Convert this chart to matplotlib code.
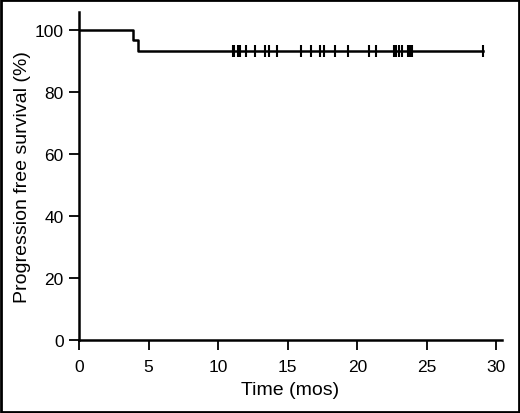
import matplotlib
matplotlib.use("Agg")
import matplotlib.pyplot as plt
from matplotlib.patches import Rectangle

plt.rcParams['font.family'] = ['Liberation Sans', 'DejaVu Sans']

# KM step curve (months, % progression free)
step_t = [0, 3.9, 4.23, 29.0]
step_s = [100, 96.7, 93.3, 93.3]

# censored patients
censor_t = [11.05, 11.15, 11.4, 11.54, 12.02, 12.62, 13.34, 13.65, 14.23,
            15.98, 16.70, 17.30, 17.61, 18.38, 19.30, 20.85, 21.34,
            22.64, 22.76, 23.0, 23.19, 23.63, 23.79, 23.96, 29.0]
censor_s = [93.3] * len(censor_t)

xticks = [0, 5, 10, 15, 20, 25, 30]
yticks = [0, 20, 40, 60, 80, 100]

fig = plt.figure(figsize=(5.2, 4.14), dpi=100)
ax = fig.add_axes([79 / 520, 73 / 414, 423 / 520, 328 / 414])

ax.step(step_t, step_s, where='post', color='black', lw=1.8)
ax.plot(censor_t, censor_s, ls='none', marker='|', ms=9, mew=1.5, color='black')

ax.set_xlim(0, 30.4)
ax.set_ylim(0, 105.8)
ax.set_xticks(xticks)
ax.set_yticks(yticks)
ax.tick_params(direction='out', length=7, width=1.3, labelsize=12.5)
ax.tick_params(axis='x', pad=7)
ax.tick_params(axis='y', pad=4)
for s in ['top', 'right']:
    ax.spines[s].set_visible(False)
for s in ['left', 'bottom']:
    ax.spines[s].set_linewidth(1.8)

ax.set_xlabel("Time (mos)", fontsize=14, labelpad=5)
ax.set_ylabel("Progression free survival (%)", fontsize=14, labelpad=3)

# black frame around the whole picture
fig.patches.append(Rectangle((0.002, 0.003), 0.996, 0.994, transform=fig.transFigure,
                             fill=False, edgecolor='black', lw=2))

fig.savefig("out.png", dpi=100)
